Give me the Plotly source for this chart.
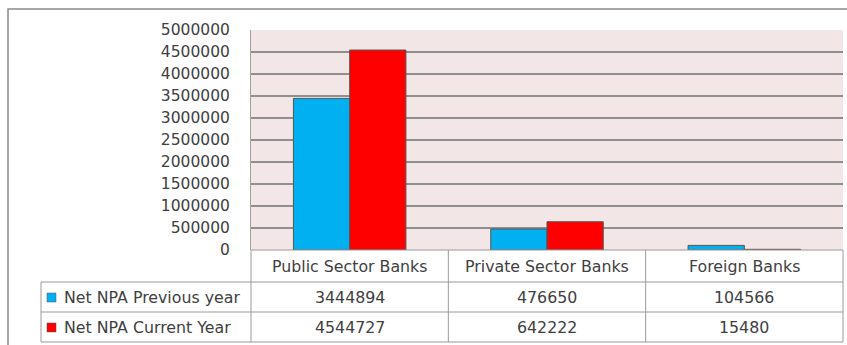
import plotly.graph_objects as go

categories = ["Public Sector Banks", "Private Sector Banks", "Foreign Banks"]
series_names = ["Net NPA Previous year", "Net NPA Current Year"]
prev_year = [3444894, 476650, 104566]
curr_year = [4544727, 642222, 15480]
series_values = [prev_year, curr_year]
series_colors = ["#00B0F0", "#FF0000"]
y_ticks = list(range(0, 5000001, 500000))

W, H = 847, 345
L, R, T, B = 251, 4, 30, 95
PW = W - L - R
PH = H - T - B

def px(x):
    return (x - L) / PW

def py(y):
    return (H - B - y) / PH

FONT = "DejaVu Sans"
TXT = "#404040"
TFS = 15.8
fig = go.Figure()
for name, vals, col in zip(series_names, series_values, series_colors):
    fig.add_trace(go.Bar(x=categories, y=vals, name=name,
                         marker=dict(color=col, line=dict(color="#555555", width=1))))

shapes = []
annotations = []
line_col = "#9a9a9a"
shapes.append(dict(type="rect", xref="paper", yref="paper", x0=px(8), x1=px(850), y0=py(9), y1=py(360),
                   line=dict(color="#8a8a8a", width=1.5), layer="below"))
n = len(categories)
col_w = PW / n
row_y = [250, 282, 312, 342]
shapes.append(dict(type="line", xref="paper", yref="paper", x0=0, x1=1, y0=py(row_y[0]), y1=py(row_y[0]), line=dict(color=line_col, width=1)))
for yv in row_y[1:]:
    shapes.append(dict(type="line", xref="paper", yref="paper", x0=px(41), x1=1, y0=py(yv), y1=py(yv), line=dict(color=line_col, width=1)))
shapes.append(dict(type="line", xref="paper", yref="paper", x0=px(41), x1=px(41), y0=py(row_y[1]), y1=py(row_y[3]), line=dict(color=line_col, width=1)))
for i in range(n + 1):
    xv = L + i * col_w
    shapes.append(dict(type="line", xref="paper", yref="paper", x0=px(xv), x1=px(xv), y0=py(row_y[0]), y1=py(row_y[3]), line=dict(color=line_col, width=1)))
for i, c in enumerate(categories):
    xc = L + (i + 0.5) * col_w
    annotations.append(dict(xref="paper", yref="paper", x=px(xc), y=py((row_y[0] + row_y[1]) / 2), text=c,
                            xanchor="center", yanchor="middle",
                            showarrow=False, font=dict(family=FONT, size=TFS, color=TXT)))
for r, (name, vals, col) in enumerate(zip(series_names, series_values, series_colors)):
    yc = (row_y[r + 1] + row_y[r + 2]) / 2
    shapes.append(dict(type="rect", xref="paper", yref="paper", x0=px(47), x1=px(56), y0=py(yc - 4), y1=py(yc + 5),
                       fillcolor=col, line=dict(color="#555555", width=0.5)))
    annotations.append(dict(xref="paper", yref="paper", x=px(62), y=py(yc), text=name,
                            xanchor="left", yanchor="middle",
                            showarrow=False, font=dict(family=FONT, size=TFS, color=TXT)))
    for i, v in enumerate(vals):
        xc = L + (i + 0.5) * col_w
        annotations.append(dict(xref="paper", yref="paper", x=px(xc), y=py(yc), text=str(v),
                                xanchor="center", yanchor="middle",
                                showarrow=False, font=dict(family=FONT, size=TFS, color=TXT)))

fig.update_layout(
    width=W, height=H,
    margin=dict(l=L, r=R, t=T, b=B, pad=0),
    paper_bgcolor="white", plot_bgcolor="#F2E6E6",
    barmode="group", bargap=0.43, bargroupgap=0,
    showlegend=False,
    shapes=shapes, annotations=annotations,
    font=dict(family=FONT, color=TXT),
    xaxis=dict(showticklabels=False, showgrid=False, showline=False, ticks=""),
    yaxis=dict(range=[0, 5000000], tickvals=y_ticks, ticktext=[str(t) for t in y_ticks],
               showgrid=True, gridcolor="#8f8f8f", gridwidth=1.5, zeroline=False,
               showline=True, linecolor="#a0a0a0", linewidth=1, ticks="", ticklen=0,
               ticklabelstandoff=17,
               tickfont=dict(family=FONT, size=15.5, color=TXT)),
)
fig.write_html("out.html")
